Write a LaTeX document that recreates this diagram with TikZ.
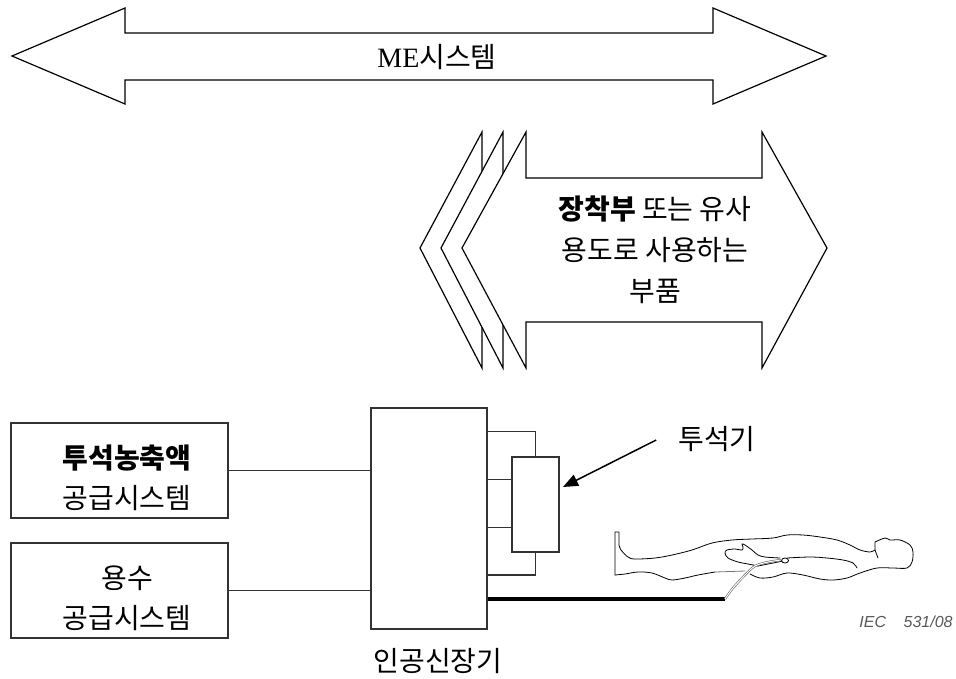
\documentclass[tikz,border=0pt]{standalone}
\usepackage{fontspec}
\setmainfont{Liberation Serif}
\newfontfamily\kr{Noto Sans CJK KR}
\newfontfamily\iecfont{Liberation Sans}
\usetikzlibrary{arrows.meta,calc}

\tikzset{
  bigarrow/.style={draw=black, fill=white, line width=1.2pt, line join=miter},
  unit/.style={draw=black!80, line width=1.5pt, fill=white, inner sep=0pt, minimum width=#1},
  conn/.style={draw=black!80, line width=1.5pt},
  krtxt/.style={font=\kr\fontsize{28}{40}\selectfont, align=center, inner sep=0pt},
  body/.style={draw=black, line width=0.8pt, line join=round, line cap=round},
  pointer/.style={draw=black, line width=1.5pt, -{Triangle[length=15pt,width=12pt]}}
}

\begin{document}
\begin{tikzpicture}[x=1pt, y=-1pt]
\useasboundingbox (0,0) rectangle (956,678);

% ---- system-wide double arrow ----
\draw[bigarrow] (12,56) -- (125,8) -- (125,33) -- (713,33) -- (713,8) -- (826,56)
  -- (713,104) -- (713,80) -- (125,80) -- (125,104) -- cycle;
\node[font=\fontsize{28}{30}\selectfont, inner sep=0pt] (me) at (437,57) {ME{\kr 시스템}};

% ---- applied-part arrow with stacked heads ----
\draw[bigarrow] (482,132) -- (420,248) -- (482,368) -- cycle;
\draw[bigarrow] (503,132) -- (441,248) -- (503,368) -- cycle;
\draw[bigarrow] (526,132) -- (462,248) -- (526,368) -- (526,322) -- (762,322) -- (762,368)
  -- (827,248) -- (762,132) -- (762,178) -- (526,178) -- cycle;
\node[krtxt, font=\kr\fontsize{28}{41}\selectfont] (apt) at (655,250)
  {\textbf{장착부} 또는 유사\\용도로 사용하는\\부품};

% ---- supply systems ----
\node[unit=217pt, minimum height=95pt] (box1) at (119.5,470.5) {};
\node[krtxt] (box1t) at (127,478) {\textbf{투석농축액}\\공급시스템};
\node[unit=217pt, minimum height=95pt] (box2) at (119.5,590.5) {};
\node[krtxt] (box2t) at (127,598) {용수\\공급시스템};

% ---- haemodialysis machine and dialyser ----
\node[unit=116pt, minimum height=221pt] (machine) at (429,518.5) {};
\node[krtxt] (machinet) at (438,661) {인공신장기};
\node[unit=47pt, minimum height=95pt] (dial) at (535.5,504.5) {};
\node[krtxt] (dialt) at (717,439) {투석기};

\draw[conn] (box1.east) -- (box1.east -| machine.west);
\draw[conn] (box2.east) -- (box2.east -| machine.west);

\coordinate (upper) at ($(machine.north east)+(0,24)$);
\coordinate (lower) at ($(machine.south east)+(0,-55)$);
\draw[conn] (upper) -| (dial.north);
\draw[conn] (lower) -| (dial.south);
\coordinate (in1) at ($(dial.west)+(0,-25)$);
\coordinate (in2) at ($(dial.west)+(0,23)$);
\draw[conn] (in1 -| machine.east) -- (in1);
\draw[conn] (in2 -| machine.east) -- (in2);

% pointer to the dialyser
\coordinate (dtip) at (563,487);
\draw[pointer] ($(dialt.west)+(-22,1)$) -- (dtip);

% blood line to the patient
\coordinate (port) at (725,599);
\draw[line width=4.5pt] (machine.east |- port) -- (port);

% ---- patient ----
\draw[body] (615,575) -- (615,532) -- (619,532) -- (619,545)
  plot[smooth, tension=0.55] coordinates {(619,545) (621,550) (628,557) (635,559) (655,558)
    (672,555) (692,550) (712,543) (732,540) (752,539) (773,538) (787,535) (803,535)
    (820,537) (837,540) (850,545) (860,550) (870,552) (875,550)}
  -- (875,542)
  plot[smooth, tension=0.55] coordinates {(875,542) (885,538) (890,540) (900,540)
    (910,545) (913,552) (912,562) (907,568) (893,568) (877,568) (860,573) (847,578)
    (833,580) (820,579) (803,575) (787,573) (773,577) (760,578) (750,574)};
\draw[body] plot[smooth, tension=0.55] coordinates {(615,575) (625,574) (638,572)
    (652,573) (665,578) (672,580) (685,578) (698,575) (715,572)};
\draw[body, draw=black!55] (715,572) -- (745,571);
\draw[body] (875,550) -- (878,558);
% arm and hand
\draw[body] plot[smooth, tension=0.55] coordinates {(758,566) (748,564) (738,562)
    (728,558) (725,553) (727,550) (735,549) (742,550) (743,547) (742,544) (745,545)
    (752,550) (758,555) (765,557) (780,558)};
\draw[body] plot[smooth, tension=0.55] coordinates {(787,558) (810,557) (827,558)
    (843,560) (853,563) (857,568)};
\draw[body] (758,566) -- (783,561);
\draw[body, fill=white] (785,560.5) ellipse (3.5pt and 2.5pt);
% catheter
\draw[draw=black!60, line width=0.6pt, double=white, double distance=1pt]
  plot[smooth, tension=0.5] coordinates {(port) (733,588) (745,575) (755,566) (768,562) (781,560)};

% ---- figure reference ----
\node[font=\iecfont\itshape\fontsize{16}{18}\selectfont, text=black!65, inner sep=0pt]
  (ref) at (906,622) {IEC\hspace{1.1em}531/08};
\end{tikzpicture}
\end{document}
